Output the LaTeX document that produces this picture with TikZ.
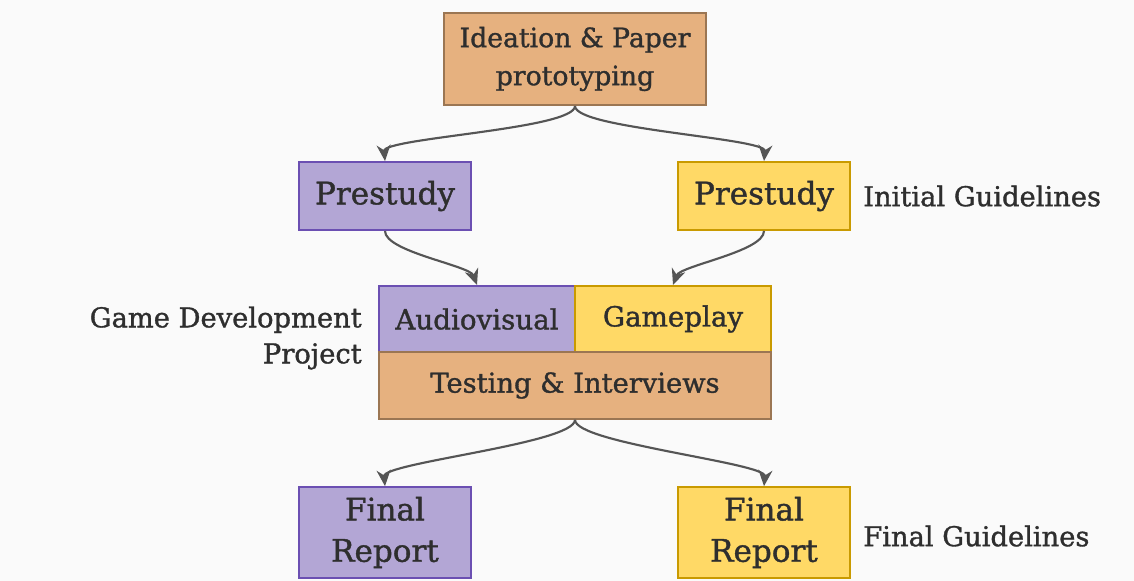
\documentclass[tikz,border=0pt]{standalone}
\usepackage{fontspec}
\setmainfont{DejaVu Serif}[FakeBold=1.2]
\usetikzlibrary{arrows.meta}
\definecolor{orfill}{HTML}{E6B17F}
\definecolor{ordraw}{HTML}{9B7653}
\definecolor{pufill}{HTML}{B3A6D5}
\definecolor{pudraw}{HTML}{6B4FB2}
\definecolor{yefill}{HTML}{FFD966}
\definecolor{yedraw}{HTML}{C99A00}
\definecolor{txt}{HTML}{2E2E2E}
\definecolor{arr}{HTML}{555555}
\definecolor{bg}{HTML}{FAFAFA}
\tikzset{
  box/.style={draw, line width=1.5pt, inner sep=0pt, align=center, text=txt},
  orbox/.style={box, fill=orfill, draw=ordraw},
  pubox/.style={box, fill=pufill, draw=pudraw},
  yebox/.style={box, fill=yefill, draw=yedraw},
  note/.style={text=txt, inner sep=0pt, font=\fontsize{20.5}{27}\selectfont},
  link/.style={->, draw=arr, line width=1.6pt}
}
\begin{document}
\begin{tikzpicture}[x=0.75pt, y=0.75pt, >={Stealth[length=12pt,width=10.5pt]}]
\useasboundingbox (0,0) rectangle (1134,-581);
\fill[bg] (0,0) rectangle (1134,-581);
% top
\node (ideate) at (575,-59) [orbox, minimum width=196.5pt, minimum height=69pt,
  font=\fontsize{20}{28.5}\selectfont] {Ideation \& Paper\\prototyping};
% prestudies
\node (preL) at (385,-196) [pubox, minimum width=129pt, minimum height=51pt,
  font=\fontsize{23.3}{31}\selectfont] {Prestudy};
\node (preR) at (764,-196) [yebox, minimum width=129pt, minimum height=51pt,
  font=\fontsize{23.3}{31}\selectfont] {Prestudy};
\node (initg) at (863,-196) [note, anchor=west] {Initial Guidelines};
% project
\node (audio) at (477,-319) [pubox, minimum width=147pt, minimum height=49.5pt,
  font=\fontsize{20.8}{27}\selectfont] {Audiovisual};
\node (game) at (673,-319) [yebox, minimum width=147pt, minimum height=49.5pt,
  font=\fontsize{20.8}{27}\selectfont] {Gameplay};
\node (test) at (575,-385.5) [orbox, minimum width=294pt, minimum height=50pt,
  font=\fontsize{20.5}{27}\selectfont] {Testing \& Interviews};
\node (gamedev) at (362,-338) [note, anchor=east, align=right] {Game Development\\Project};
% reports
\node (finL) at (385,-532.5) [pubox, minimum width=129pt, minimum height=68pt,
  font=\fontsize{23.3}{31}\selectfont] {Final\\Report};
\node (finR) at (764,-532.5) [yebox, minimum width=129pt, minimum height=68pt,
  font=\fontsize{23.3}{31}\selectfont] {Final\\Report};
\node (fing) at (863,-536) [note, anchor=west] {Final Guidelines};
% links
\draw[link] (ideate.south) to[out=-90, in=95, looseness=0.3] (preL.north);
\draw[link] (ideate.south) to[out=-90, in=85, looseness=0.3] (preR.north);
\draw[link] (preL.south) to[out=-90, in=110, looseness=0.5] (audio.north);
\draw[link] (preR.south) to[out=-90, in=70, looseness=0.5] (game.north);
\draw[link] (test.south) to[out=-90, in=95, looseness=0.3] (finL.north);
\draw[link] (test.south) to[out=-90, in=85, looseness=0.3] (finR.north);
\end{tikzpicture}
\end{document}
